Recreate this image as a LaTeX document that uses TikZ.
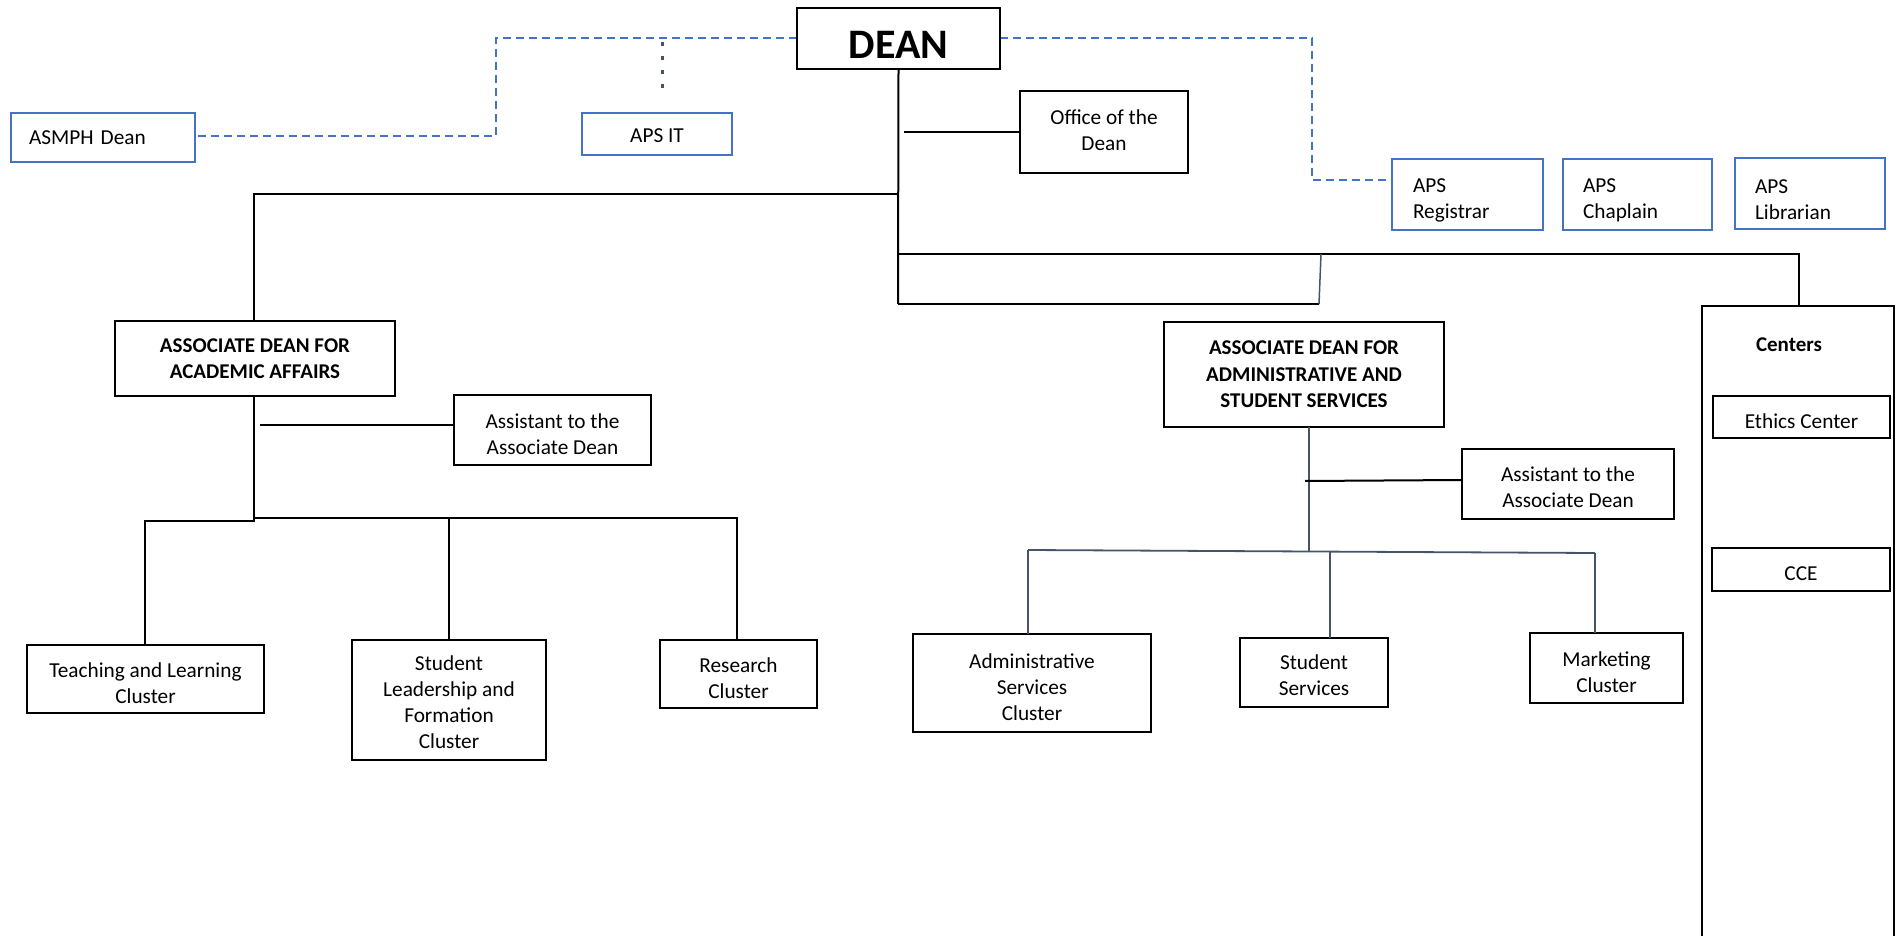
\documentclass[tikz,border=0pt]{standalone}
\usepackage{fontspec}
\setmainfont{Carlito}
\definecolor{lnblue}{HTML}{4472C4}
\definecolor{slate}{HTML}{44546A}
\begin{document}
\begin{tikzpicture}[x=1pt,y=-1pt,
  every node/.style={font=\fontsize{21.3}{26}\selectfont, inner sep=0pt, outer sep=0pt},
  bbox/.style={draw=black, line width=2.2pt, fill=white, align=center},
  bluebox/.style={draw=lnblue, line width=2pt, fill=white},
  txt/.style={align=center, yshift=-4pt},
  ltxt/.style={align=left, text width=#1, yshift=-6pt},
  bold/.style={font=\fontsize{21}{26.5}\selectfont\bfseries},
  conn/.style={draw=black, line width=2pt},
  sconn/.style={draw=slate, line width=1.8pt},
  dline/.style={draw=lnblue, line width=2.2pt, dash pattern=on 8pt off 5pt},
  dotline/.style={draw=slate, line width=3pt, dash pattern=on 4pt off 10pt}
]
\useasboundingbox (0,0) rectangle (1898,936);
% top connectors
\coordinate (dl) at (797,38);
\coordinate (dr) at (1000,38);
\draw[dline] (dl) -- (496,38) -- (496,136) -- (195,136);
\draw[dotline] (662,42) -- (662,93);
\draw[dline] (dr) -- (1312,38) -- (1312,180) -- (1392,180);
% nodes
\node[bbox, minimum width=203, minimum height=61,
  label={[yshift=-6pt, font=\fontsize{42}{48}\selectfont\bfseries]center:DEAN}] (dean) at (898.5,38.5) {};
\node[bluebox, minimum width=184, minimum height=49, text width=148, inner xsep=18pt, align=left] (asmph) at (103,137.5) {ASMPH Dean};
\node[bluebox, minimum width=150, minimum height=42, label={[txt, yshift=2pt]center:APS IT}] (apsit) at (657,134) {};
\node[bbox, minimum width=168, minimum height=82, label={[txt, yshift=6pt]center:{Office of the\\Dean}}] (office) at (1104,132) {};
\node[bluebox, minimum width=151, minimum height=71, label={[ltxt=109pt]center:{APS\\Registrar}}] (reg) at (1467.5,194.5) {};
\node[bluebox, minimum width=149, minimum height=71, label={[ltxt=109pt]center:{APS\\Chaplain}}] (chap) at (1637.5,194.5) {};
\node[bluebox, minimum width=150, minimum height=71, label={[ltxt=110pt]center:{APS\\Librarian}}] (lib) at (1810,193.5) {};
\node[bbox, bold, minimum width=280, minimum height=75] (adaa) at (255,358.5) {ASSOCIATE DEAN FOR\\ACADEMIC AFFAIRS};
\node[bbox, minimum width=197, minimum height=70, label={[txt]center:{Assistant to the\\Associate Dean}}] (asst1) at (552.5,430) {};
\node[bbox, minimum width=237, minimum height=68, label={[txt]center:{Teaching and Learning\\Cluster}}] (teach) at (145.5,679) {};
\node[bbox, minimum width=194, minimum height=120, label={[txt, yshift=2pt]center:{Student\\Leadership and\\Formation\\Cluster}}] (slf) at (449,700) {};
\node[bbox, minimum width=157, minimum height=68, label={[txt]center:{Research\\Cluster}}] (res) at (738.5,674) {};
\node[bbox, bold, minimum width=280, minimum height=105] (adas) at (1304,374.5) {ASSOCIATE DEAN FOR\\ADMINISTRATIVE AND\\STUDENT SERVICES};
\node[bbox, minimum width=212, minimum height=70, label={[txt, yshift=1pt]center:{Assistant to the\\Associate Dean}}] (asst2) at (1568,484) {};
\node[bbox, minimum width=238, minimum height=98, label={[txt]center:{Administrative\\Services\\Cluster}}] (asc) at (1032,683) {};
\node[bbox, minimum width=148, minimum height=69, label={[txt, yshift=1pt]center:{Student\\Services}}] (ss) at (1314,672.5) {};
\node[bbox, minimum width=153, minimum height=70, label={[txt]center:{Marketing\\Cluster}}] (mkt) at (1606.5,668) {};
% Centers column
\coordinate (cbl) at (1702,945);
\coordinate (cbr) at (1894,945);
\draw[black, line width=2.5pt] (cbl) -- (1702,306) -- (1894,306) -- (cbr);
\coordinate (ctop) at (1799,306);
\node[bold] (centers) at (1789,345) {Centers};
\node[bbox, minimum width=177, minimum height=42, label={[txt]center:Ethics Center}] (ethics) at (1801.5,417) {};
\node[bbox, minimum width=178, minimum height=43, label={[txt]center:CCE}] (cce) at (1801,569.5) {};
% Dean tree
\coordinate (j1) at (898,194);
\coordinate (j2) at (898,254);
\coordinate (j3) at (898,304);
\draw[conn] (dean.south) -- (j3);
\draw[conn] (904,132) -- (office.west |- 0,132);
\draw[conn] (j1) -- (254,194) -- (adaa.north -| 254,0);
\draw[conn] (j2) -- (1799,254) -- (ctop);
\draw[conn] (j3) -- (1319,304);
\draw[slate, line width=1.5pt] (1319,304) -- (1321,254);
% Academic affairs tree
\draw[conn] (adaa.south -| 254,0) -- (254,521) -- (145,521) -- (teach.north -| 145,0);
\draw[conn] (254,518) -- (737,518) -- (res.north -| 737,0);
\draw[conn] (449,518) -- (slf.north);
\draw[conn] (260,425) -- (asst1.west |- 0,425);
% Admin tree
\coordinate (k1) at (1028,550);
\coordinate (k2) at (1330,552);
\coordinate (k3) at (1595,553);
\draw[sconn] (adas.south -| 1309,0) -- (1309,552);
\draw[draw=black, line width=2pt] (1305,481) -- (asst2.west |- 0,480);
\draw[sconn] (k1) -- (k3);
\draw[sconn] (k1) -- (asc.north -| 1028,0);
\draw[sconn] (k2) -- (ss.north -| 1330,0);
\draw[sconn] (k3) -- (mkt.north -| 1595,0);
\end{tikzpicture}
\end{document}
